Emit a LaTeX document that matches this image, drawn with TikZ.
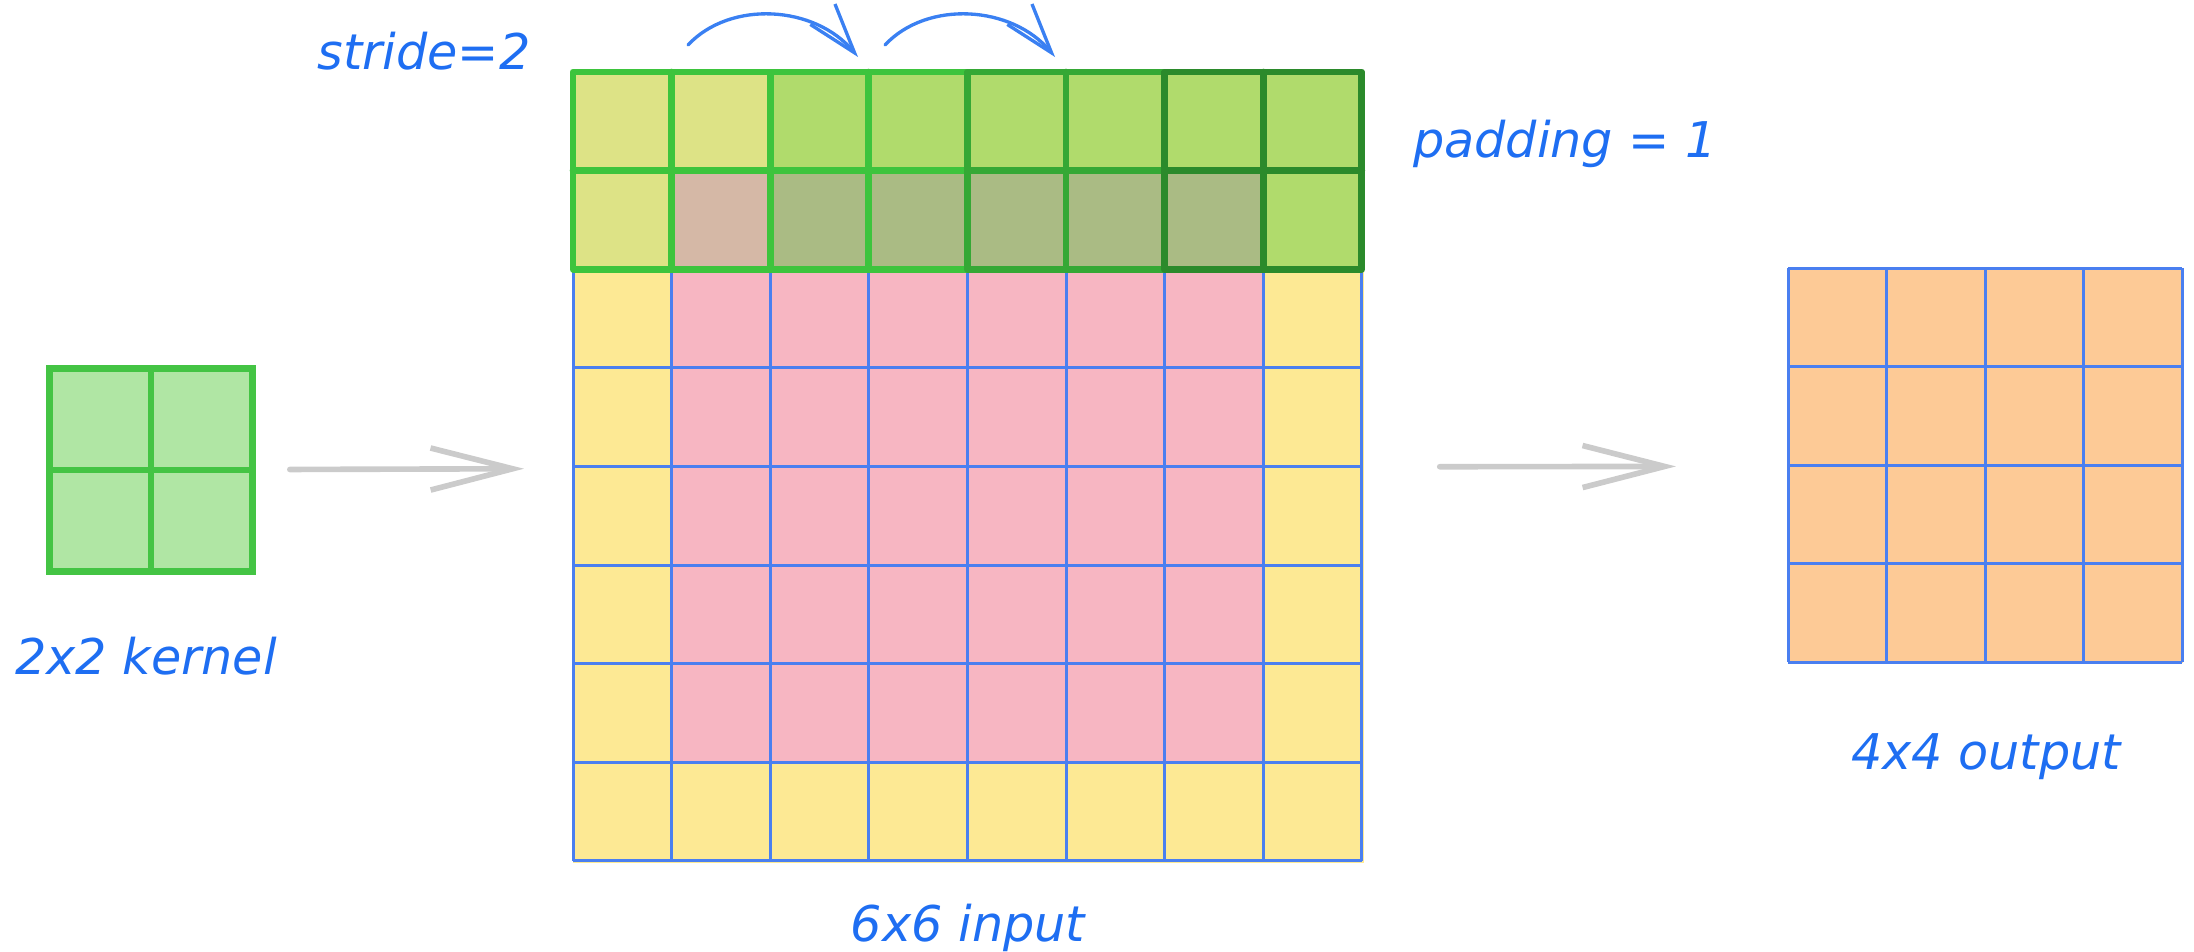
\documentclass[tikz,border=0pt]{standalone}
\usepackage{fontspec}
\newfontfamily\handfont{DejaVu Sans}
\usetikzlibrary{arrows.meta}
\definecolor{padyellow}{HTML}{FDE994}
\definecolor{inpink}{HTML}{F7B6C2}
\definecolor{outorange}{HTML}{FDCA96}
\definecolor{gridblue}{HTML}{4A7FF0}
\definecolor{textblue}{HTML}{1E6EF2}
\definecolor{kerfill}{HTML}{B0E6A4}
\definecolor{kerline}{HTML}{44C444}
\definecolor{gA}{HTML}{DDE386}
\definecolor{gB}{HTML}{B0DB6C}
\definecolor{gC}{HTML}{D5B8A6}
\definecolor{gD}{HTML}{AABB84}
\definecolor{lineBright}{HTML}{3DC43D}
\definecolor{lineMid}{HTML}{35A835}
\definecolor{lineDark}{HTML}{2B8A2B}
\definecolor{arrowgray}{HTML}{CBCBCB}
\definecolor{stridecol}{HTML}{3A80F2}
\tikzset{
  gridline/.style={draw=gridblue, line width=0.85pt},
  label/.style={font=\handfont\itshape\fontsize{14}{16}\selectfont, text=textblue, anchor=base, inner sep=0pt},
  grayarrow/.style={draw=arrowgray, line width=1.6pt, line cap=round,
     -{Straight Barb[length=0.82cm, width=0.42cm, line width=1.6pt]}},
  stridearrow/.style={draw=stridecol, line width=0.95pt, line cap=round,
     -{Straight Barb[length=0.5cm, width=0.32cm, line width=0.95pt]}},
  kstroke/.style={line width=1.9pt, line cap=round, line join=round},
}
\begin{document}
\begin{tikzpicture}[x=0.01cm, y=-0.01cm]
\useasboundingbox (0,0) rectangle (2194,951);
\def\cs{98.6}
% ---------------- input 6x6 with padding (8x8) ----------------
\node[draw=none, minimum width=7.888cm, minimum height=7.888cm, inner sep=0pt, anchor=north west] (input) at (573,72) {};
\fill[padyellow] (input.north west) rectangle (input.south east);
\fill[inpink] (573+\cs,72+\cs) rectangle (573+7*\cs,72+7*\cs);
\foreach \i in {0,...,8} {
  \draw[gridline] (573+\i*\cs,72) -- (573+\i*\cs,72+8*\cs);
  \draw[gridline] (573,72+\i*\cs) -- (573+8*\cs,72+\i*\cs);
}
% kernel overlay on the top two rows
\foreach \c in {0,1} \fill[gA] (573+\c*\cs,72) rectangle ++(\cs,\cs);
\foreach \c in {2,...,7} \fill[gB] (573+\c*\cs,72) rectangle ++(\cs,\cs);
\fill[gA] (573,72+\cs) rectangle ++(\cs,\cs);
\fill[gC] (573+\cs,72+\cs) rectangle ++(\cs,\cs);
\foreach \c in {2,...,6} \fill[gD] (573+\c*\cs,72+\cs) rectangle ++(\cs,\cs);
\fill[gB] (573+7*\cs,72+\cs) rectangle ++(\cs,\cs);
\foreach \k/\col in {0/lineBright,1/lineBright,2/lineMid,3/lineDark} {
  \draw[kstroke, draw=\col] (573+2*\k*\cs,72) rectangle ++(2*\cs,2*\cs);
  \draw[kstroke, draw=\col] (573+2*\k*\cs+\cs,72) -- ++(0,2*\cs);
  \draw[kstroke, draw=\col] (573+2*\k*\cs,72+\cs) -- ++(2*\cs,0);
}
% ---------------- kernel 2x2 ----------------
\node[draw=kerline, fill=kerfill, line width=1.9pt, minimum width=2.03cm, minimum height=2.03cm, inner sep=0pt, anchor=north west] (kernel) at (46,365) {};
\draw[kstroke, draw=kerline, line cap=butt] (kernel.north) -- (kernel.south);
\draw[kstroke, draw=kerline, line cap=butt] (kernel.west) -- (kernel.east);
% ---------------- output 4x4 ----------------
\node[draw=none, fill=outorange, minimum width=3.944cm, minimum height=3.944cm, inner sep=0pt, anchor=north west] (output) at (1788,268) {};
\foreach \i in {0,...,4} {
  \draw[gridline] (1788+\i*\cs,268) -- (1788+\i*\cs,268+4*\cs);
  \draw[gridline] (1788,268+\i*\cs) -- (1788+4*\cs,268+\i*\cs);
}
% ---------------- connectors ----------------
\draw[grayarrow, shorten <=0.34cm, shorten >=0.49cm] (kernel) -- (input);
\draw[grayarrow, shorten <=0.76cm, shorten >=1.12cm] (input) -- (output);
\coordinate (s1) at (688,45);
\coordinate (e1) at (858,57);
\coordinate (s2) at (885,45);
\coordinate (e2) at (1055,57);
\draw[stridearrow] (s1) .. controls (730,0) and (815,5) .. (e1);
\draw[stridearrow] (s2) .. controls (927,0) and (1012,5) .. (e2);
% ---------------- labels ----------------
\node[label] (lstride) at (424,69) {stride=2};
\node[label] (lpad) at (1565,157) {padding = 1};
\node[label] (lkernel) at (146,674) {2x2 kernel};
\node[label] (linput) at (968,941) {6x6 input};
\node[label] (loutput) at (1986,769) {4x4 output};
\end{tikzpicture}
\end{document}
